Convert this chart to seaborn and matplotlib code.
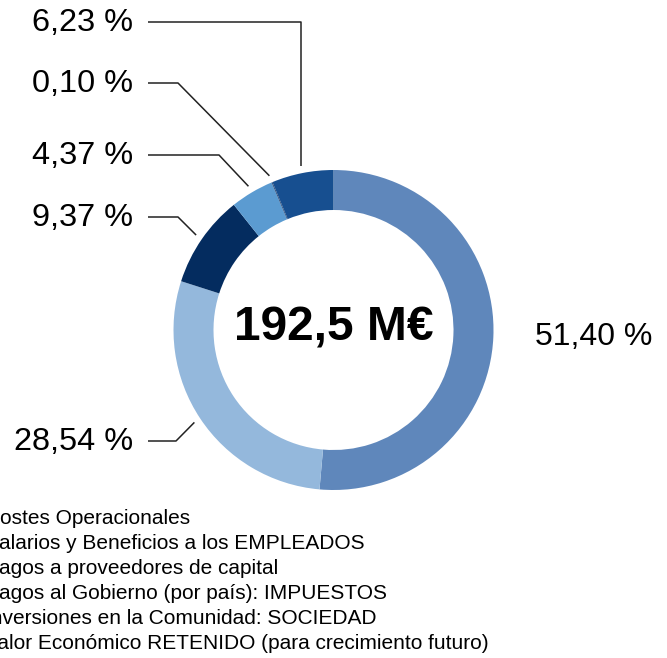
import numpy as np
import matplotlib
matplotlib.use('Agg')
import matplotlib.pyplot as plt
import seaborn as sns
from matplotlib.patches import Patch

# ── Data ────────────────────────────────────────────────────────────────────
categories = [
    'Costes Operacionales',
    'Salarios y Beneficios a los EMPLEADOS',
    'Pagos a proveedores de capital',
    'Pagos al Gobierno (por país): IMPUESTOS',
    'Inversiones en la Comunidad: SOCIEDAD',
    'Valor Económico RETENIDO (para crecimiento futuro)',
]
shares = [51.40, 28.54, 9.37, 4.37, 0.10, 6.23]
pct_labels = ['51,40 %', '28,54 %', '9,37 %', '4,37 %', '0,10 %', '6,23 %']
total_label = '192,5 M€'

COLORS = ['#5f87bb', '#94b8dc', '#042c5f', '#5b9bd1', '#2a4a78', '#174f90']

# ── Style ───────────────────────────────────────────────────────────────────
sns.set_theme(style='white')
plt.rcParams['font.family'] = ['Liberation Sans', 'DejaVu Sans']
plt.rcParams['text.color'] = 'black'

W, H = 667, 658
fig = plt.figure(figsize=(W / 100, H / 100), dpi=100)
ax = fig.add_axes([0, 0, 1, 1])


def py(y):
    # pixel row (from top) -> data y
    return H - y


cx, cy, R = 333.5, py(330), 160
ax.pie(shares, colors=COLORS, startangle=90, counterclock=False,
       center=(cx, cy), radius=R, frame=True,
       wedgeprops=dict(width=40, edgecolor='none', linewidth=0))
ax.set_xlim(0, W)
ax.set_ylim(0, H)
ax.set_aspect('equal')
ax.axis('off')

ax.text(cx, cy + 2, total_label, ha='center', va='center',
        fontsize=34.5, fontweight='bold', color='black')

# ── Labels & leader lines ───────────────────────────────────────────────────
cum = np.cumsum([0] + shares[:-1])
mids = [90 - 360 * (c + s / 2) / 100 for c, s in zip(cum, shares)]

# (label y from top, elbow x) for left-side labels; first slice labelled on right
left_layout = {1: (441, 176), 2: (217, 178), 3: (155, 219), 4: (83, 178), 5: (22, None)}

for i, (lab, ang) in enumerate(zip(pct_labels, mids)):
    if i == 0:
        ax.text(535, py(337), lab, ha='left', va='center', fontsize=23)
        continue
    ly, ex = left_layout[i]
    a = np.deg2rad(ang)
    r_end = 167
    x_end, y_end = cx + r_end * np.cos(a), cy + r_end * np.sin(a)
    if ex is None:
        ex = x_end
    ax.plot([148, ex, x_end], [py(ly), py(ly), y_end], color='#222222', lw=1.1,
            solid_capstyle='butt')
    ax.text(133, py(ly + 1), lab, ha='right', va='center', fontsize=23.4)

# ── Legend (partly outside the canvas, as in the original) ──────────────────
handles = [Patch(facecolor=c, edgecolor='none') for c in COLORS]
ax.legend(handles, categories, loc='upper left', frameon=False,
          bbox_to_anchor=(-46, py(509)), bbox_transform=ax.transData,
          fontsize=15, borderpad=0, borderaxespad=0, handlelength=1,
          handleheight=0.8, handletextpad=0.5, labelspacing=0.28)

fig.savefig('out.png', dpi=100)
plt.close()
